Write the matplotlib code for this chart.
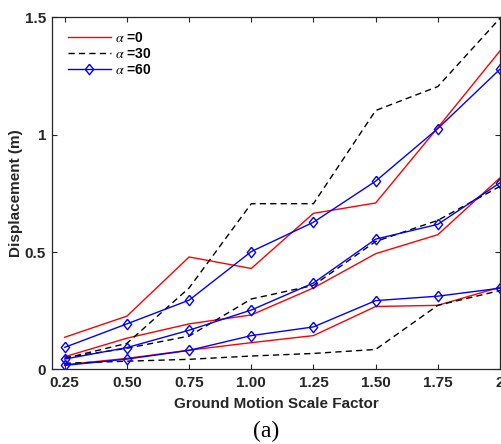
import matplotlib
matplotlib.use("Agg")
import matplotlib.pyplot as plt

# scale factors on the x axis
scale = [0.25, 0.50, 0.75, 1.00, 1.25, 1.50, 1.75, 2.00]
xtick_labels = ['0.25', '0.50', '0.75', '1.00', '1.25', '1.50', '1.75', '2']

# alpha = 0 (red)
a0_top = [0.137, 0.227, 0.479, 0.430, 0.665, 0.709, 1.030, 1.357]
a0_mid = [0.054, 0.133, 0.194, 0.232, 0.347, 0.493, 0.574, 0.816]
a0_bot = [0.020, 0.047, 0.082, 0.114, 0.144, 0.268, 0.273, 0.350]

# alpha = 30 (black dashed)
a30_top = [0.047, 0.111, 0.347, 0.706, 0.706, 1.103, 1.205, 1.496]
a30_mid = [0.050, 0.090, 0.142, 0.300, 0.358, 0.545, 0.635, 0.780]
a30_bot = [0.026, 0.035, 0.043, 0.057, 0.068, 0.085, 0.273, 0.336]

# alpha = 60 (blue with diamonds)
a60_top = [0.094, 0.194, 0.295, 0.502, 0.627, 0.802, 1.026, 1.279]
a60_mid = [0.044, 0.093, 0.167, 0.253, 0.368, 0.555, 0.618, 0.795]
a60_bot = [0.017, 0.044, 0.081, 0.144, 0.181, 0.293, 0.312, 0.346]

plt.rcParams['font.family'] = ['Liberation Sans', 'DejaVu Sans']
plt.rcParams['mathtext.fontset'] = 'stix'

axcol = '#262626'
diamond = [(0, 1), (0.8, 0), (0, -1), (-0.8, 0), (0, 1)]

fig = plt.figure(figsize=(5.01, 4.44), dpi=100)
ax = fig.add_axes([0.1044, 0.168, 0.8936, 0.793])

for i, y in enumerate([a0_top, a0_mid, a0_bot]):
    ax.plot(scale, y, color='red', lw=1.0, label=r'$\alpha$ =0' if i == 0 else None)
for i, y in enumerate([a30_top, a30_mid, a30_bot]):
    ax.plot(scale, y, color='black', lw=1.0, ls=(0, (4.5, 3)),
            label=r'$\alpha$ =30' if i == 0 else None)
for i, y in enumerate([a60_top, a60_mid, a60_bot]):
    ax.plot(scale, y, color='blue', lw=1.0, marker=diamond, ms=7.5, mfc='none',
            mew=1.0, label=r'$\alpha$ =60' if i == 0 else None)

ax.set_xlim(0.2, 2.0)
ax.set_ylim(0, 1.5)
ax.set_xticks(scale)
ax.set_xticklabels(xtick_labels)
ax.set_yticks([0, 0.5, 1, 1.5])
ax.set_yticklabels(['0', '0.5', '1', '1.5'])

ax.tick_params(direction='in', length=3.5, width=0.8, top=True, right=True,
               colors=axcol, labelsize=11)
ax.tick_params(axis='x', pad=5)
ax.tick_params(axis='y', pad=4.5)
for lab in ax.get_xticklabels() + ax.get_yticklabels():
    lab.set_fontweight('bold')
for s in ax.spines.values():
    s.set_color(axcol)
    s.set_linewidth(0.9)

ax.set_xlabel('Ground Motion Scale Factor', fontsize=11, fontweight='bold',
              color=axcol, labelpad=5)
ax.set_ylabel('Displacement (m)', fontsize=11, fontweight='bold',
              color=axcol, labelpad=1.5)

leg = ax.legend(loc='upper left', bbox_to_anchor=(0.034, 0.962), frameon=False,
                borderpad=0, borderaxespad=0, handlelength=3.1,
                handletextpad=0.3, labelspacing=0.15,
                prop={'weight': 'bold', 'size': 10})

fig.text(0.532, 0.029, '(a)', fontsize=17, family='Liberation Serif',
         ha='center', va='center')

fig.savefig('out.png', dpi=100)
